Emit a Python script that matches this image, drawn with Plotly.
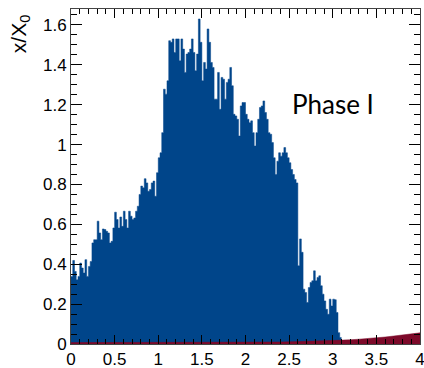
import numpy as np
import plotly.graph_objects as go

# ---- data ----
bin_width = 0.02  # blue histogram bin width (x units)
blue_values = [
    0.339, 0.419, 0.364, 0.322, 0.339, 0.406, 0.381, 0.356, 0.423, 0.339,
    0.389, 0.414, 0.507, 0.523, 0.523, 0.616, 0.557, 0.523, 0.577, 0.574,
    0.565, 0.557, 0.507, 0.515, 0.582, 0.661, 0.624, 0.582, 0.637, 0.590,
    0.666, 0.624, 0.582, 0.666, 0.641, 0.624, 0.632, 0.666, 0.691, 0.750,
    0.792, 0.783, 0.829, 0.808, 0.766, 0.775, 0.808, 0.817, 0.741, 0.859,
    0.934, 0.959,
    1.060, 1.278, 1.253, 1.320, 1.521, 1.513, 1.530, 1.462, 1.530, 1.530,
    1.420, 1.530, 1.479, 1.362, 1.454, 1.462, 1.479, 1.530, 1.462, 1.370,
    1.454, 1.630, 1.513, 1.320, 1.412, 1.379, 1.580, 1.513, 1.412, 1.387,
    1.228, 1.228, 1.362, 1.177, 1.337, 1.328, 1.228, 1.312, 1.328, 1.387,
    1.295, 1.152, 1.144, 1.127, 1.043, 1.194, 1.211, 1.211,
    1.152, 1.127, 1.110, 1.119, 1.060, 0.993, 1.060, 1.127, 1.186, 1.194,
    1.219, 1.161, 1.127, 1.060, 1.052, 1.010, 0.934, 0.850, 0.917, 0.959,
    0.942, 0.959, 0.985, 0.959, 0.934, 0.909, 0.875, 0.850, 0.825, 0.808,
    0.392, 0.527, 0.460, 0.275, 0.258, 0.208, 0.283, 0.309, 0.317, 0.367,
    0.317, 0.334, 0.342, 0.292, 0.250, 0.216, 0.174, 0.149, 0.225, 0.191,
    0.225, 0.222, 0.158, 0.057, 0.032,
]

red_x = [0.0, 0.5, 1.0, 1.5, 2.0, 2.2, 2.4, 2.6, 2.8, 3.0, 3.1, 3.2, 3.3,
         3.4, 3.5, 3.6, 3.7, 3.8, 3.9, 4.0]
red_values = [0.007, 0.007, 0.007, 0.007, 0.008, 0.009, 0.010, 0.012, 0.014,
              0.016, 0.018, 0.021, 0.024, 0.027, 0.031, 0.035, 0.040, 0.045,
              0.050, 0.056]

x_ticks = [0, 0.5, 1, 1.5, 2, 2.5, 3, 3.5, 4]
y_ticks = [0, 0.2, 0.4, 0.6, 0.8, 1, 1.2, 1.4, 1.6]

BLUE = "#00458a"
RED = "#7d0a2a"
FONT = "Liberation Sans"

edges = np.arange(len(blue_values) + 1) * bin_width
blue_y = blue_values + [blue_values[-1]]

fig = go.Figure()
fig.add_trace(go.Scatter(
    x=edges, y=blue_y, mode="lines", line_shape="hv",
    line=dict(color=BLUE, width=0.5), fill="tozeroy", fillcolor=BLUE,
    hoverinfo="skip", showlegend=False,
))
fig.add_trace(go.Scatter(
    x=red_x, y=red_values, mode="lines",
    line=dict(color=RED, width=0.5), fill="tozeroy", fillcolor=RED,
    hoverinfo="skip", showlegend=False,
))

axis_common = dict(
    showline=True, linecolor="#444", linewidth=1, mirror="ticks",
    ticks="inside", tickcolor="#000", tickwidth=1,
    showgrid=False, zeroline=False, automargin=False,
    ticklabeloverflow="allow",
    tickfont=dict(family=FONT, size=17, color="#000"),
)

fig.update_xaxes(range=[0, 4], tickvals=x_ticks, ticklen=9,
                 minor=dict(dtick=0.1, ticklen=5, ticks="inside",
                            tickcolor="#000", showgrid=False),
                 **axis_common)
fig.update_yaxes(range=[0, 1.68], tickvals=y_ticks, ticklen=11,
                 minor=dict(dtick=0.05, ticklen=6, ticks="inside",
                            tickcolor="#000", showgrid=False),
                 **axis_common)

fig.add_annotation(
    text="Phase I", x=3.0, y=1.205, xref="x", yref="y",
    showarrow=False, font=dict(family="Lato", size=26, color="#000"),
    xanchor="center", yanchor="middle",
)
fig.add_annotation(
    text="x/X<sub>0</sub>", x=-0.146, y=0.925, xref="paper", yref="paper",
    showarrow=False, textangle=-90,
    font=dict(family=FONT, size=21, color="#000"),
    xanchor="center", yanchor="middle",
)

fig.update_layout(
    width=424, height=368,
    margin=dict(l=71, r=4, t=9, b=24),
    paper_bgcolor="white", plot_bgcolor="white",
    showlegend=False,
)

fig.write_html("out.html")
